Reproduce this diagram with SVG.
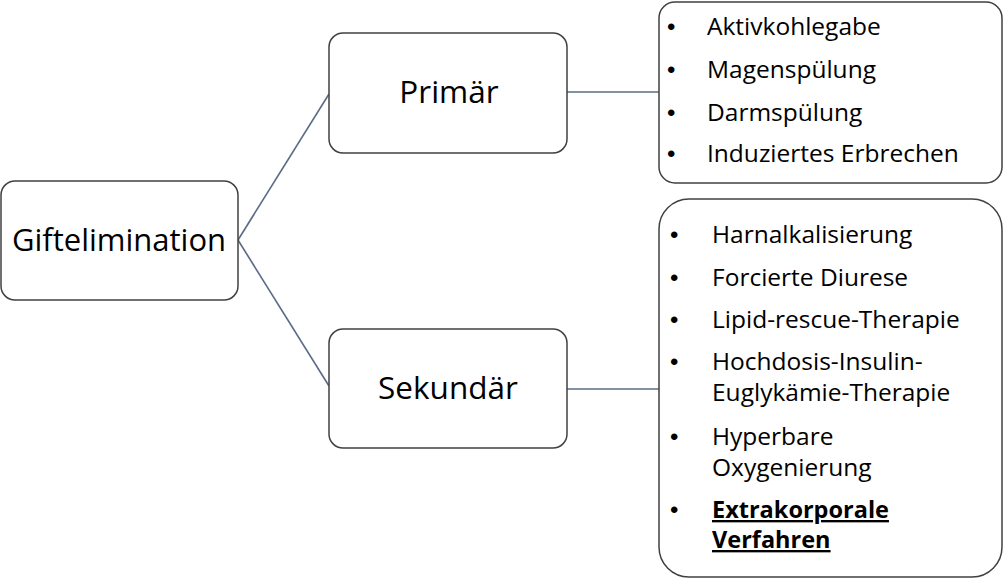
<svg xmlns="http://www.w3.org/2000/svg" width="1004" height="579" viewBox="0 0 1004 579">
<style>
.box{fill:#fff;stroke:#404040;stroke-width:1.5}
.conn{stroke:#5b6b86;stroke-width:1.6;fill:none}
.t{font-family:"Open Sans","Liberation Sans",sans-serif;fill:#000}
.big{font-size:31.5px}
.li{font-size:24.5px}
.bul{font-family:"Liberation Sans",Arial,sans-serif;font-size:24px}
.b{font-weight:bold;text-decoration:underline;font-size:23.5px}
</style>
<rect width="1004" height="579" fill="#fff"/>
<g id="connectors">
<line class="conn" x1="238" y1="240" x2="329" y2="94"/>
<line class="conn" x1="238" y1="240" x2="329" y2="386"/>
<line class="conn" x1="567" y1="92" x2="659" y2="92"/>
<line class="conn" x1="567" y1="389" x2="659" y2="389"/>
</g>
<g id="giftelimination">
<rect class="box" x="1" y="181" width="237" height="119" rx="14"/>
<text class="t big" x="119" y="251" text-anchor="middle" style="font-size:31px">Giftelimination</text>
</g>
<g id="primaer">
<rect class="box" x="329" y="33" width="238" height="120" rx="14"/>
<text class="t big" x="449" y="103" text-anchor="middle">Primär</text>
</g>
<g id="sekundaer">
<rect class="box" x="329" y="329" width="238" height="119" rx="14"/>
<text class="t big" x="448" y="399" text-anchor="middle">Sekundär</text>
</g>
<g id="primaer-liste">
<rect class="box" x="659" y="2" width="343" height="181" rx="16"/>
<g class="t li">
<text class="bul" x="667" y="35">•</text><text x="707" y="35">Aktivkohlegabe</text>
<text class="bul" x="667" y="78">•</text><text x="707" y="78">Magenspülung</text>
<text class="bul" x="667" y="121">•</text><text x="707" y="121">Darmspülung</text>
<text class="bul" x="667" y="162">•</text><text x="707" y="162">Induziertes Erbrechen</text>
</g>
</g>
<g id="sekundaer-liste">
<rect class="box" x="659" y="199" width="343" height="378" rx="30"/>
<g class="t li">
<text class="bul" x="670" y="243">•</text><text x="712" y="243">Harnalkalisierung</text>
<text class="bul" x="670" y="286">•</text><text x="712" y="286">Forcierte Diurese</text>
<text class="bul" x="670" y="328">•</text><text x="712" y="328">Lipid-rescue-Therapie</text>
<text class="bul" x="670" y="370">•</text><text x="712" y="370">Hochdosis-Insulin-</text>
<text x="712" y="401">Euglykämie-Therapie</text>
<text class="bul" x="670" y="445">•</text><text x="712" y="445">Hyperbare</text>
<text x="712" y="476">Oxygenierung</text>
<text class="bul" x="670" y="518">•</text><text class="b" x="712" y="518">Extrakorporale</text>
<text class="b" x="712" y="548">Verfahren</text>
</g>
</g>
</svg>
